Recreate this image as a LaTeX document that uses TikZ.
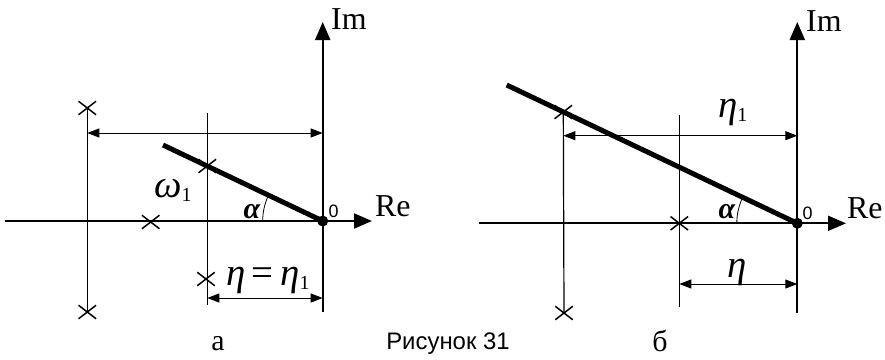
\documentclass[tikz,border=0pt]{standalone}
\usepackage{fontspec}
\setmainfont{Liberation Serif}
\newfontfamily\capfont{Liberation Sans}
\usetikzlibrary{arrows.meta,shapes.misc}
\newcommand\lowone{\raisebox{-0.12em}{\upshape\fontsize{20}{20}\selectfont 1}}
\begin{document}
\begin{tikzpicture}[x=1bp,y=-1bp,
  axis/.style={line width=2bp,-{Triangle[length=18bp,width=15bp]}},
  thinline/.style={line width=1.2bp},
  ray/.style={line width=5bp},
  anglearc/.style={line width=0.8bp},
  dim/.style={line width=1bp,{Triangle[length=12bp,width=9bp]}-{Triangle[length=12bp,width=9bp]}},
  pole/.style={cross out,draw,line width=1.5bp,minimum width=16bp,minimum height=12bp,inner sep=0pt},
  origin/.style={circle,fill,inner sep=0pt,minimum size=11bp},
  axlabel/.style={font=\fontsize{32}{32}\selectfont,inner sep=0pt,anchor=west},
  zero/.style={font=\capfont\fontsize{18}{18}\selectfont,inner sep=0pt},
  gr/.style={font=\fontsize{39}{39}\selectfont\itshape,inner sep=0pt},
  angsym/.style={font=\fontsize{30}{30}\selectfont\bfseries\itshape,inner sep=0pt},
  sublabel/.style={font=\fontsize{30}{30}\selectfont,inner sep=0pt},
  ]
\useasboundingbox (0,0) rectangle (885,359);

% ---------- panel a ----------
\coordinate (A-o) at (322.7,221);
\coordinate (A-reS) at (5,221);
\coordinate (A-reE) at (372,221);
\coordinate (A-imS) at (322.7,312);
\coordinate (A-imE) at (322.7,22);
\coordinate (A-m1) at (207.3,113);
\coordinate (A-m2) at (207.3,305);
\coordinate (A-r) at (163,145);
\coordinate (A-d1) at (87.3,133);
\coordinate (A-d2) at (322.7,133);
\coordinate (A-e1) at (207.3,298);
\coordinate (A-e2) at (322.7,298);

\draw[axis] (A-reS) -- (A-reE);
\draw[axis] (A-imS) -- (A-imE);
\node[pole] (A-p1) at (87.3,108) {};
\node[pole] (A-p2) at (87.3,312) {};
\node[pole] (A-p3) at (150.7,222) {};
\node[pole] (A-p4) at (207.3,166) {};
\node[pole] (A-p5) at (206,279) {};
\draw[thinline] (A-p1.center) -- (A-p2.center);
\draw[thinline] (A-m1) -- (A-m2);
\draw[ray] (A-r) -- (A-o);
\draw[anglearc] (A-o) ++(180:60) arc[start angle=180,end angle=205.5,radius=60];
\draw[dim] (A-d1) -- (A-d2);
\draw[dim] (A-e1) -- (A-e2);
\node[origin] (A-O) at (A-o) {};

\node[axlabel] (A-Im) at (331,19) {Im};
\node[axlabel] (A-Re) at (375,206) {Re};
\node[zero] (A-0) at (333.5,211.5) {0};
\node[gr,anchor=base west] (A-w) at (154,197) {ω\lowone};
\node[gr,anchor=base west] (A-eta) at (226,285) {η\,{\upshape=}\,η\lowone};
\node[angsym] (A-al) at (252,212) {α};
\node[sublabel] (A-lab) at (218,344) {а};

% ---------- caption ----------
\node[font=\capfont\fontsize{24}{24}\selectfont,inner sep=0pt] (cap) at (448,344) {Рисунок 31};

% ---------- panel b ----------
\coordinate (B-o) at (797.3,223.3);
\coordinate (B-reS) at (479,223.3);
\coordinate (B-reE) at (846,223.3);
\coordinate (B-imS) at (797.3,313);
\coordinate (B-imE) at (797.3,22);
\coordinate (B-m1) at (679.3,115);
\coordinate (B-m2) at (679.3,307);
\coordinate (B-r) at (506.7,85);
\coordinate (B-d1) at (563.3,135.7);
\coordinate (B-d2) at (797.3,135.7);
\coordinate (B-e1) at (679.3,284);
\coordinate (B-e2) at (797.3,284);

\draw[axis] (B-reS) -- (B-reE);
\draw[axis] (B-imS) -- (B-imE);
\node[pole] (B-p1) at (563.3,112) {};
\node[pole] (B-p2) at (564,313) {};
\node[pole] (B-p3) at (679.3,223.3) {};
\draw[thinline] (B-p1.center) -- (B-p2.center);
\draw[thinline] (B-m1) -- (B-m2);
\draw[ray] (B-r) -- (B-o);
\draw[anglearc] (B-o) ++(180:60.5) arc[start angle=180,end angle=205.5,radius=60.5];
\draw[dim] (B-d1) -- (B-d2);
\draw[dim] (B-e1) -- (B-e2);
\node[origin] (B-O) at (B-o) {};

\node[axlabel] (B-Im) at (806,21) {Im};
\node[axlabel] (B-Re) at (847,208) {Re};
\node[zero] (B-0) at (807.7,213) {0};
\node[gr,anchor=base west] (B-eta1) at (718,117) {η\lowone};
\node[gr,anchor=base west] (B-eta) at (727,277) {η};
\node[angsym] (B-al) at (727,212) {α};
\node[sublabel] (B-lab) at (660,341) {б};
\end{tikzpicture}
\end{document}
